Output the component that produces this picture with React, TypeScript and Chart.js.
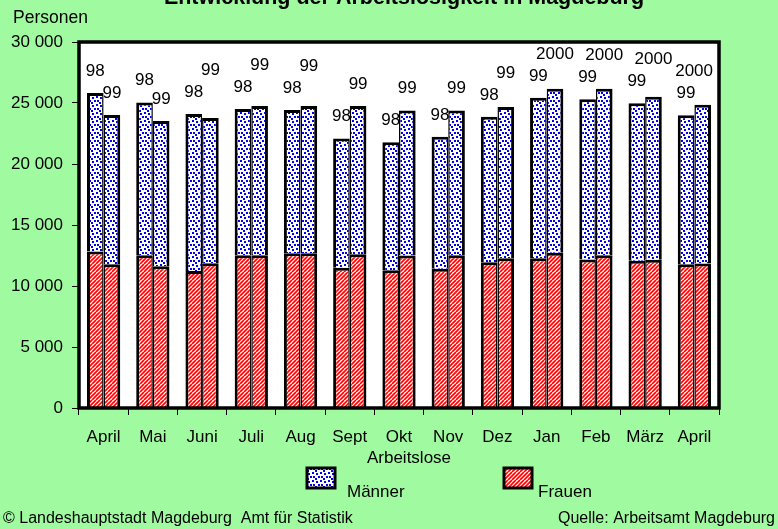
import React, { useEffect, useRef } from 'react';
import { Chart, registerables } from 'chart.js';

Chart.register(...registerables);

const months = ['April', 'Mai', 'Juni', 'Juli', 'Aug', 'Sept', 'Okt', 'Nov', 'Dez', 'Jan', 'Feb', 'März', 'April'];
const yearsFirst = ['98', '98', '98', '98', '98', '98', '98', '98', '98', '99', '99', '99', '99'];
const yearsSecond = ['99', '99', '99', '99', '99', '99', '99', '99', '99', '2000', '2000', '2000', '2000'];
const frauenFirst = [12830, 12530, 11220, 12530, 12690, 11490, 11300, 11410, 11950, 12280, 12170, 12070, 11790];
const maennerFirst = [12990, 12520, 12880, 11980, 11740, 10610, 10480, 10830, 11930, 13150, 13130, 12900, 12200];
const frauenSecond = [11790, 11620, 11870, 12530, 12690, 12610, 12500, 12530, 12280, 12720, 12530, 12150, 11850];
const maennerSecond = [12230, 11910, 11900, 12220, 12060, 12140, 11890, 11860, 12390, 13450, 13640, 13370, 13010];
const yTicks = [0, 5000, 10000, 15000, 20000, 25000, 30000];

const titleText = 'Entwicklung der Arbeitslosigkeit in Magdeburg';
const yAxisTitle = 'Personen';
const xAxisTitle = 'Arbeitslose';
const legendMaenner = 'Männer';
const legendFrauen = 'Frauen';
const footerLeft = '© Landeshauptstadt Magdeburg  Amt für Statistik';
const footerRight = 'Quelle: Arbeitsamt Magdeburg';

const BG = '#A0FAA0';
const FONT = "'Liberation Sans', Arial, sans-serif";

function makeRedPattern(): CanvasPattern | string {
  const c = document.createElement('canvas');
  c.width = 8; c.height = 8;
  const g = c.getContext('2d')!;
  g.fillStyle = '#ffffff';
  g.fillRect(0, 0, 8, 8);
  g.strokeStyle = '#ff0000';
  g.lineWidth = 1.7;
  for (let x = -8; x <= 16; x += 4) {
    g.beginPath();
    g.moveTo(x, 8);
    g.lineTo(x + 8, 0);
    g.stroke();
  }
  return g.createPattern(c, 'repeat') || '#ff0000';
}

function makeBluePattern(): CanvasPattern | string {
  const c = document.createElement('canvas');
  c.width = 8; c.height = 8;
  const g = c.getContext('2d')!;
  g.fillStyle = '#ffffff';
  g.fillRect(0, 0, 8, 8);
  g.fillStyle = '#0000ff';
  const dots = [[0, 0], [4, 1], [1, 4], [6, 4], [3, 6]];
  dots.forEach(([x, y]) => g.fillRect(x, y, 2, 2));
  return g.createPattern(c, 'repeat') || '#0000ff';
}

function fmt(v: number): string {
  return String(v).replace(/\B(?=(\d{3})+(?!\d))/g, ' ');
}

export default function App() {
  const ref = useRef<HTMLCanvasElement>(null);

  useEffect(() => {
    const canvas = ref.current!;
    const red = makeRedPattern();
    const blue = makeBluePattern();

    const bwLeft = { top: 3, left: 3, right: 1.5, bottom: 3 };
    const bwRight = { top: 3, left: 1.5, right: 3, bottom: 3 };

    const bgPlugin = {
      id: 'bgPlugin',
      beforeDraw(chart: any) {
        const { ctx, chartArea: a } = chart;
        ctx.save();
        ctx.fillStyle = BG;
        ctx.fillRect(0, 0, chart.width, chart.height);
        ctx.fillStyle = '#ffffff';
        ctx.fillRect(a.left, a.top, a.right - a.left, a.bottom - a.top);
        ctx.restore();
      },
      afterDatasetsDraw(chart: any) {
        const { ctx, chartArea: a } = chart;
        ctx.save();
        ctx.strokeStyle = '#000';
        ctx.lineWidth = 3.5;
        ctx.strokeRect(a.left, a.top, a.right - a.left, a.bottom - a.top);
        // year labels
        ctx.font = `17px ${FONT}`;
        ctx.fillStyle = '#000';
        ctx.textAlign = 'center';
        ctx.textBaseline = 'alphabetic';
        const m1 = chart.getDatasetMeta(1);
        const m2 = chart.getDatasetMeta(3);
        for (let i = 0; i < months.length; i++) {
          const b1 = m1.data[i];
          const b2 = m2.data[i];
          const t1 = yearsFirst[i];
          const t2 = yearsSecond[i];
          const y1 = b1.y - 17;
          let y2 = b2.y - 17;
          const w1 = ctx.measureText(t1).width;
          const w2 = ctx.measureText(t2).width;
          let x2 = b2.x;
          if (x2 + w2 / 2 > a.right - 6) x2 = a.right - 6 - w2 / 2;
          const overlapX = (b1.x + w1 / 2) > (x2 - w2 / 2);
          const overlapY = Math.abs(y2 - y1) < 13;
          if (overlapX && overlapY) {
            y2 = Math.min(y2, y1 - 22);
          }
          ctx.fillText(t1, b1.x, y1);
          ctx.fillText(t2, x2, y2);
        }
        ctx.restore();
      },
      afterDraw(chart: any) {
        const { ctx } = chart;
        ctx.save();
        ctx.fillStyle = '#000';
        ctx.textBaseline = 'alphabetic';
        // title (partly cut off at top)
        ctx.font = `bold 21.5px ${FONT}`;
        ctx.textAlign = 'center';
        ctx.fillText(titleText, 404, 4);
        ctx.font = `17.5px ${FONT}`;
        ctx.textAlign = 'left';
        ctx.fillText(yAxisTitle, 13, 23);
        ctx.font = `17px ${FONT}`;
        ctx.textAlign = 'center';
        ctx.fillText(xAxisTitle, 409, 463);
        // legend
        const drawBox = (x: number, fill: any) => {
          ctx.fillStyle = fill;
          ctx.fillRect(x, 468, 28, 20);
          ctx.strokeStyle = '#000';
          ctx.lineWidth = 3;
          ctx.strokeRect(x, 468, 28, 20);
        };
        drawBox(307, blue);
        drawBox(504, red);
        ctx.fillStyle = '#000';
        ctx.textAlign = 'left';
        ctx.fillText(legendMaenner, 347, 497);
        ctx.fillText(legendFrauen, 538, 497);
        // footer
        ctx.font = `16px ${FONT}`;
        ctx.fillText(footerLeft, 3, 523);
        ctx.fillText(footerRight, 558, 523);
        ctx.restore();
      },
    };

    const chart = new Chart(canvas, {
      type: 'bar',
      data: {
        labels: months,
        datasets: [
          { label: 'Frauen', data: frauenFirst, stack: 'a', backgroundColor: red as any, borderColor: '#000', borderWidth: bwLeft as any },
          { label: 'Männer', data: maennerFirst, stack: 'a', backgroundColor: blue as any, borderColor: '#000', borderWidth: bwLeft as any, borderSkipped: 'bottom' },
          { label: 'Frauen', data: frauenSecond, stack: 'b', backgroundColor: red as any, borderColor: '#000', borderWidth: bwRight as any },
          { label: 'Männer', data: maennerSecond, stack: 'b', backgroundColor: blue as any, borderColor: '#000', borderWidth: bwRight as any, borderSkipped: 'bottom' },
        ],
      },
      options: {
        responsive: false,
        animation: false,
        devicePixelRatio: 1,
        categoryPercentage: 0.676,
        barPercentage: 1,
        layout: { padding: { left: 0, right: 59, top: 42, bottom: 0 } },
        plugins: {
          legend: { display: false },
          title: { display: false },
          tooltip: { enabled: false },
        },
        scales: {
          x: {
            stacked: true,
            grid: { display: true, drawOnChartArea: false, drawTicks: true, tickLength: 7, color: '#000', lineWidth: 1, offset: true },
            border: { display: false },
            ticks: { color: '#000', font: { size: 17, family: FONT }, padding: 12, maxRotation: 0, autoSkip: false },
            afterFit(scale: any) { scale.height = 121; },
          },
          y: {
            stacked: true,
            min: 0,
            max: 30000,
            grid: { display: true, drawOnChartArea: false, drawTicks: true, tickLength: 7, color: '#000', lineWidth: 1 },
            border: { display: false },
            afterBuildTicks(scale: any) { scale.ticks = yTicks.map((v) => ({ value: v })); },
            ticks: {
              color: '#000',
              font: { size: 17, family: FONT },
              padding: 9,
              callback: (v: any) => fmt(Number(v)),
            },
            afterFit(scale: any) { scale.width = 79; },
          },
        },
      },
      plugins: [bgPlugin],
    });

    return () => chart.destroy();
  }, []);

  return (
    <div style={{ position: 'fixed', left: 0, top: 0, width: 778, height: 529, background: BG }}>
      <canvas ref={ref} width={778} height={529} style={{ display: 'block', width: 778, height: 529 }} />
    </div>
  );
}
